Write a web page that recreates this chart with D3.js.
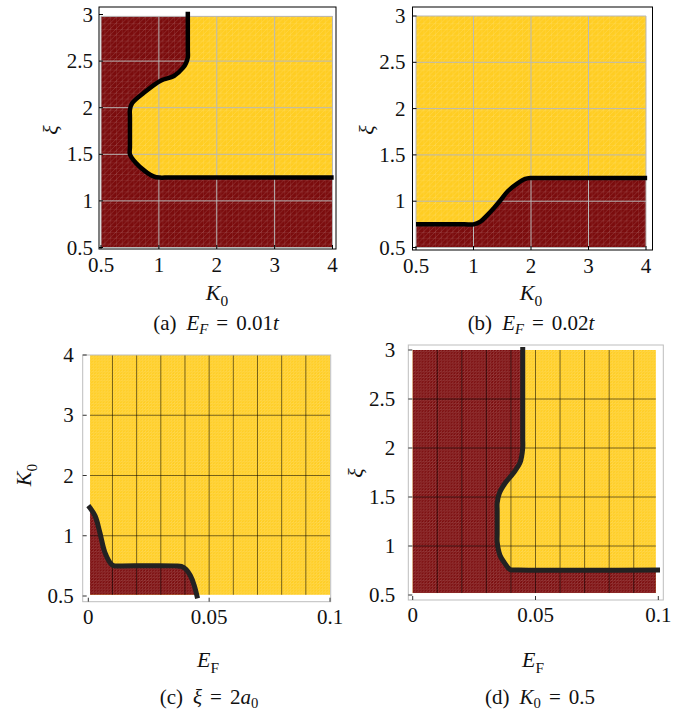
<!DOCTYPE html>
<html>
<head>
<meta charset="utf-8">
<script src="https://cdn.jsdelivr.net/npm/d3@7"></script>
<style>
  body { margin: 0; background: #fff; }
  text { font-family: "Liberation Serif", "Times New Roman", serif; fill: #111; }
</style>
</head>
<body>
<div id="chart"></div>
<script>
// tick values
var k0Ticks = [0.5, 1, 2, 3, 4];          // K0 is sampled on these values, plotted evenly spaced
var xiTicks = [0.5, 1, 1.5, 2, 2.5, 3];
var efTicks = [0, 0.05, 0.1];
var efGrid = [0.01, 0.02, 0.03, 0.04, 0.05, 0.06, 0.07, 0.08, 0.09];

// (a) E_F = 0.01t  -- phase boundary (K0, xi)
var aK0 = [1.5, 1.5, 1.5, 1.47, 1.42, 1.26, 1.03, 0.87, 0.77, 0.75, 0.75, 0.75, 0.75, 0.80, 0.88, 0.96, 1.02, 1.1, 4.02];
var aXi = [3.03, 2.62, 2.54, 2.48, 2.43, 2.34, 2.29, 2.16, 2.05, 1.98, 1.9, 1.58, 1.5, 1.41, 1.32, 1.26, 1.25, 1.25, 1.25];

// (b) E_F = 0.02t
var bK0 = [0.5, 0.92, 1.0, 1.12, 1.24, 1.36, 1.47, 1.6, 1.76, 1.9, 2.0, 2.1, 4.02];
var bXi = [0.75, 0.75, 0.75, 0.78, 0.85, 0.93, 1.01, 1.11, 1.19, 1.24, 1.25, 1.25, 1.25];

// (c) xi = 2a0  -- boundary (E_F, K0)
var cEF = [0.0, 0.0028, 0.0048, 0.0069, 0.0097, 0.0108, 0.014, 0.036, 0.0385, 0.0405, 0.0422, 0.0438, 0.0452];
var cK0 = [1.5, 1.33, 1.05, 0.86, 0.76, 0.75, 0.75, 0.75, 0.745, 0.72, 0.67, 0.59, 0.48];

// (d) K0 = 0.5  -- boundary (E_F, xi)
var dEF = [0.0448, 0.0448, 0.0448, 0.0437, 0.041, 0.0376, 0.0353, 0.0344, 0.0344, 0.0344, 0.0344, 0.0356, 0.0376, 0.0396, 0.043, 0.1007];
var dXi = [3.03, 2.1, 2.0, 1.85, 1.745, 1.64, 1.54, 1.44, 1.36, 1.12, 1.04, 0.90, 0.82, 0.76, 0.755, 0.755];

var RED = "#7b0c0d", YELLOW = "#ffcd22";

var svg = d3.select("#chart").append("svg")
    .attr("width", 682)
    .attr("height", 713);

var defs = svg.append("defs");
function meshPattern(id, s) {
  var p = defs.append("pattern")
      .attr("id", id)
      .attr("patternUnits", "userSpaceOnUse")
      .attr("width", s).attr("height", s);
  p.append("path")
      .attr("d", "M0,0V" + s + "M0,0H" + s + "M0," + s + "L" + s + ",0")
      .attr("stroke", "#fff")
      .attr("stroke-opacity", 0.2)
      .attr("stroke-width", 0.7)
      .attr("fill", "none");
}
meshPattern("meshA", 5.8);
meshPattern("meshC", 2.9);

// evenly spaced scale for K0 categories
function k0Scale(r0, r1) {
  return d3.scaleLinear()
      .domain(k0Ticks)
      .range(k0Ticks.map(function(d, i) { return r0 + i * (r1 - r0) / (k0Ticks.length - 1); }));
}

// write text with italic / subscript pieces
function mathText(g, x, y, parts, size, anchor, rotate, subShift) {
  var shift = size * (subShift || 0.28);
  var t = g.append("text")
      .attr("x", x).attr("y", y)
      .attr("font-size", size)
      .attr("text-anchor", anchor || "middle");
  if (rotate) t.attr("transform", "rotate(-90," + x + "," + y + ")");
  var shifted = false;
  parts.forEach(function(p) {
    var s = t.append("tspan").text(p.t);
    if (p.it) s.attr("font-style", "italic");
    if (p.dx) s.attr("dx", p.dx);
    if (p.sub) {
      s.attr("font-size", size * 0.7).attr("dy", shift);
      shifted = true;
    } else if (shifted) {
      s.attr("dy", -shift);
      shifted = false;
    }
  });
  return t;
}

function drawPanel(o) {
  var g = svg.append("g");
  var x = o.x, y = o.y;
  var fx0 = x(o.fill[0]), fx1 = x(o.fill[1]), fy0 = y(o.fill[2]), fy1 = y(o.fill[3]);

  // base colour
  g.append("rect")
      .attr("x", fx0).attr("y", fy1)
      .attr("width", fx1 - fx0).attr("height", fy0 - fy1)
      .attr("fill", o.base);

  var pts = o.xs.map(function(d, i) { return [x(d), y(o.ys[i])]; });
  var line = d3.line().curve(d3.curveCatmullRom.alpha(0.5));

  // other phase region = boundary curve closed with corners
  var corners = o.corners.map(function(c) { return [x(c[0]), y(c[1])]; });
  var inner = pts.map(function(p) {
    return [Math.max(fx0, Math.min(fx1, p[0])), Math.max(fy1, Math.min(fy0, p[1]))];
  });
  g.append("path")
      .attr("d", line(inner) + corners.map(function(c) { return "L" + c[0] + "," + c[1]; }).join("") + "Z")
      .attr("fill", o.other);

  // mesh texture
  g.append("rect")
      .attr("x", fx0).attr("y", fy1)
      .attr("width", fx1 - fx0).attr("height", fy0 - fy1)
      .attr("fill", "url(#" + o.mesh + ")");

  // grid
  g.selectAll(".gx").data(o.gridX).enter().append("line")
      .attr("x1", function(d) { return x(d); }).attr("x2", function(d) { return x(d); })
      .attr("y1", fy1).attr("y2", fy0)
      .attr("stroke", o.gridColor).attr("stroke-width", o.gridWidth);
  g.selectAll(".gy").data(o.gridY).enter().append("line")
      .attr("y1", function(d) { return y(d); }).attr("y2", function(d) { return y(d); })
      .attr("x1", fx0).attr("x2", fx1)
      .attr("stroke", o.gridColor).attr("stroke-width", o.gridWidth);

  // boundary
  g.append("path")
      .attr("d", line(pts))
      .attr("fill", "none")
      .attr("stroke", o.curveColor)
      .attr("stroke-width", o.curveWidth)
      .attr("stroke-linejoin", "round");

  // frame
  var f = o.frame;
  g.append("rect")
      .attr("x", f[0]).attr("y", f[1])
      .attr("width", f[2] - f[0]).attr("height", f[3] - f[1])
      .attr("fill", "none")
      .attr("stroke", o.frameColor).attr("stroke-width", 1);

  // ticks (inward) and labels
  g.selectAll(".tx").data(o.xTicks).enter().append("line")
      .attr("x1", function(d) { return x(d); }).attr("x2", function(d) { return x(d); })
      .attr("y1", f[3]).attr("y2", f[3] - 4)
      .attr("stroke", o.tickColor);
  g.selectAll(".ty").data(o.yTicks).enter().append("line")
      .attr("y1", function(d) { return y(d); }).attr("y2", function(d) { return y(d); })
      .attr("x1", f[0]).attr("x2", f[0] + 4)
      .attr("stroke", o.tickColor);
  g.selectAll(".lx").data(o.xTicks).enter().append("text")
      .attr("x", function(d) { return x(d); })
      .attr("y", f[3] + o.xLabelGap)
      .attr("text-anchor", "middle")
      .attr("font-size", 21)
      .text(function(d) { return d; });
  g.selectAll(".ly").data(o.yTicks).enter().append("text")
      .attr("x", f[0] - o.yLabelGap)
      .attr("y", function(d) { return y(d) + 7; })
      .attr("text-anchor", "end")
      .attr("font-size", 21)
      .text(function(d) { return d; });

  mathText(g, o.xTitle[0], o.xTitle[1], o.xTitle[2], 22, "middle");
  mathText(g, o.yTitle[0], o.yTitle[1], o.yTitle[2], 22, "middle", true);
  mathText(g, o.caption[0], o.caption[1], o.caption[2], 21, "middle", false, 0.2);
}

var K0lab = [{t: "K", it: true}, {t: "0", sub: true}];
var XIlab = [{t: "ξ", it: true}];
var EFlab = [{t: "E", it: true}, {t: "F", sub: true}];

// (a)
var xa = k0Scale(101, 332.5), ya = d3.scaleLinear().domain([0.5, 3]).range([247.5, 14.5]);
drawPanel({
  x: xa, y: ya, xs: aK0, ys: aXi,
  fill: [0.5, 4, 0.5, 2.98], base: RED, other: YELLOW, mesh: "meshA",
  corners: [[4, 2.98], [1.5, 2.98]],
  gridX: k0Ticks, gridY: [0.5, 1, 1.5, 2, 2.5, 2.98], gridColor: "#b9b9b9", gridWidth: 1,
  curveColor: "#000", curveWidth: 4.5,
  frame: [99, 7, 336, 249], frameColor: "#000", tickColor: "#000",
  xTicks: k0Ticks, yTicks: xiTicks, xLabelGap: 23, yLabelGap: 6,
  xTitle: [217, 300, K0lab], yTitle: [58, 130, XIlab],
  caption: [216, 330, [{t: "(a)"}, {t: "E", it: true, dx: 10}, {t: "F", it: true, sub: true}, {t: "=", dx: 8}, {t: "0.01", dx: 8}, {t: "t", it: true}]]
});

// (b)
var xb = k0Scale(416, 646), yb = d3.scaleLinear().domain([0.5, 3]).range([247.5, 16]);
drawPanel({
  x: xb, y: yb, xs: bK0, ys: bXi,
  fill: [0.5, 4, 0.5, 3], base: YELLOW, other: RED, mesh: "meshA",
  corners: [[4, 0.5], [0.5, 0.5]],
  gridX: k0Ticks, gridY: xiTicks, gridColor: "#b9b9b9", gridWidth: 1,
  curveColor: "#000", curveWidth: 4.5,
  frame: [412.5, 7, 652.5, 250], frameColor: "#000", tickColor: "#000",
  xTicks: k0Ticks, yTicks: xiTicks, xLabelGap: 23, yLabelGap: 7,
  xTitle: [531, 300, K0lab], yTitle: [374, 130, XIlab],
  caption: [531, 330, [{t: "(b)"}, {t: "E", it: true, dx: 10}, {t: "F", it: true, sub: true}, {t: "=", dx: 8}, {t: "0.02", dx: 8}, {t: "t", it: true}]]
});

// (c)
var xc = d3.scaleLinear().domain([0, 0.1]).range([88.3, 330]);
var yc = d3.scaleLinear().domain(k0Ticks).range(k0Ticks.map(function(d, i) { return 596 - i * 60.25; }));
drawPanel({
  x: xc, y: yc, xs: cEF, ys: cK0,
  fill: [0.0007, 0.1, 0.51, 4], base: YELLOW, other: RED, mesh: "meshC",
  corners: [[0.0007, 0.51]],
  gridX: efGrid, gridY: [1, 2, 3], gridColor: "rgba(0,0,0,0.6)", gridWidth: 0.9,
  curveColor: "#222", curveWidth: 5,
  frame: [82.7, 355, 330.7, 601.7], frameColor: "#bdbdbd", tickColor: "#333",
  xTicks: efTicks, yTicks: k0Ticks, xLabelGap: 22, yLabelGap: 9,
  xTitle: [208, 667, EFlab], yTitle: [31, 475, K0lab],
  caption: [209, 704, [{t: "(c)"}, {t: "ξ", it: true, dx: 10}, {t: "=", dx: 8}, {t: "2", dx: 8}, {t: "a", it: true}, {t: "0", sub: true}]]
});

// (d)
var xd = d3.scaleLinear().domain([0, 0.1]).range([412.7, 658.3]);
var yd = d3.scaleLinear().domain([0.5, 3]).range([595, 350]);
drawPanel({
  x: xd, y: yd, xs: dEF, ys: dXi,
  fill: [0, 0.099, 0.52, 3], base: YELLOW, other: RED, mesh: "meshC",
  corners: [[0.099, 0.52], [0, 0.52], [0, 3]],
  gridX: efGrid, gridY: [1, 1.5, 2, 2.5], gridColor: "rgba(0,0,0,0.6)", gridWidth: 0.9,
  curveColor: "#222", curveWidth: 5,
  frame: [408.3, 345, 663.3, 600], frameColor: "#bdbdbd", tickColor: "#333",
  xTicks: efTicks, yTicks: xiTicks, xLabelGap: 22, yLabelGap: 13,
  xTitle: [533, 667, EFlab], yTitle: [363, 473, XIlab],
  caption: [540, 704, [{t: "(d)"}, {t: "K", it: true, dx: 10}, {t: "0", sub: true}, {t: "=", dx: 8}, {t: "0.5", dx: 8}]]
});
</script>
</body>
</html>
